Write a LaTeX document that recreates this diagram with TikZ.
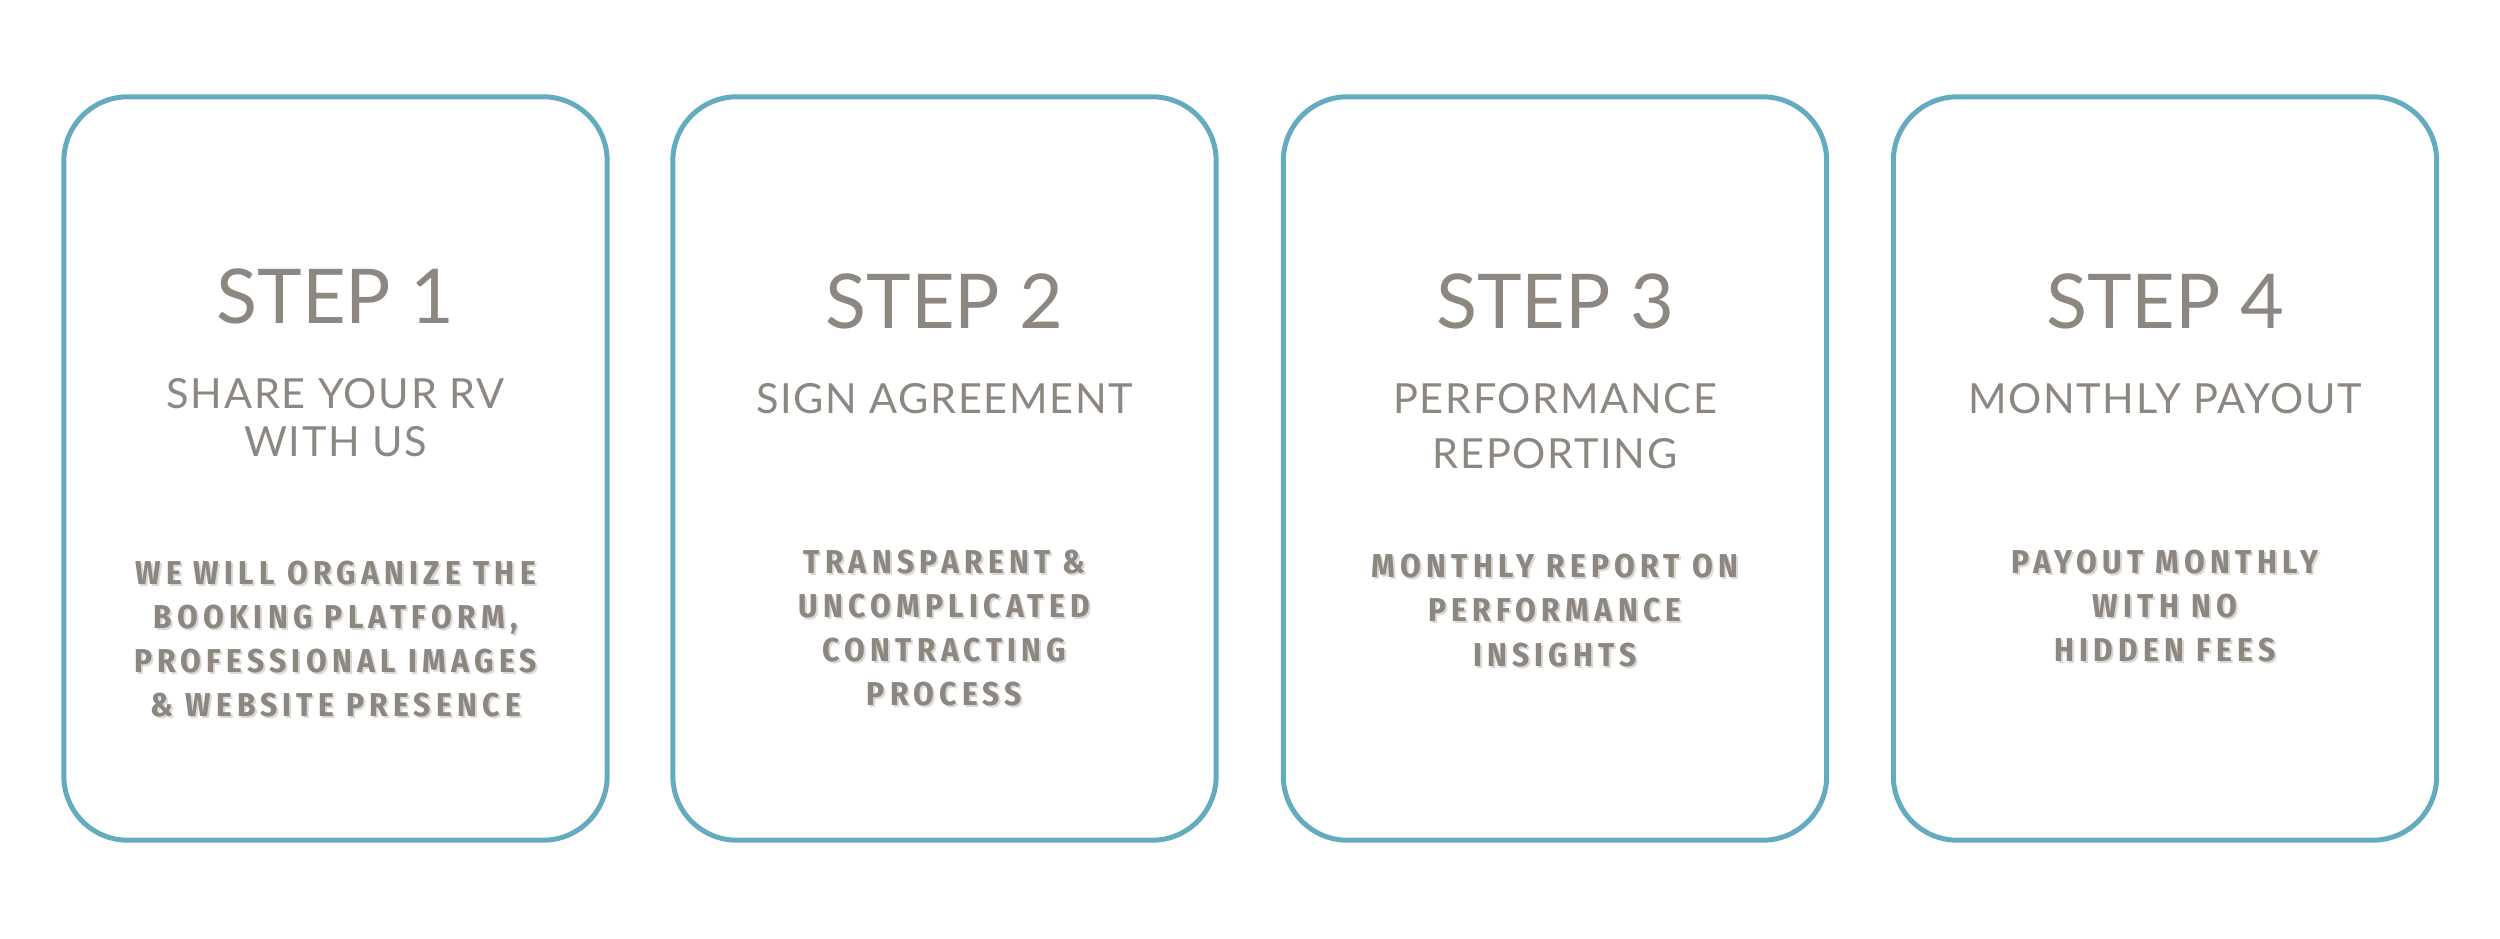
\documentclass[tikz,border=0pt]{standalone}
\usepackage{fontspec}
\newfontfamily\headfont{Lato}
\newfontfamily\subfont[LetterSpace=4]{Lato}
\IfFontExistsTF{Fira Sans Condensed}{\newfontfamily\descfont[LetterSpace=16]{Fira Sans Condensed}\def\descsize{\fontsize{9.4}{12.6}\selectfont}}{\newfontfamily\descfont[LetterSpace=14]{Fira Sans}\def\descsize{\fontsize{8.7}{12.6}\selectfont}}
\definecolor{cardblue}{HTML}{64ABBF}
\definecolor{txtgray}{HTML}{8D8782}
\definecolor{shadowgray}{HTML}{DCD8D4}
\tikzset{
  card/.style={draw=cardblue, line width=1.42pt, rounded corners=0.64cm, minimum width=5.43cm, minimum height=7.43cm, inner sep=0pt},
  steptitle/.style={text=txtgray, inner sep=0pt, font=\headfont\fontsize{21.5}{26}\selectfont},
  subtitle/.style={text=txtgray, inner sep=0pt, align=center, font=\subfont\fontsize{11.8}{13.6}\selectfont},
  desc/.style={text=txtgray, inner sep=0pt, align=center, font=\descfont\bfseries\descsize},
  descshadow/.style={desc, text=shadowgray}
}
\begin{document}
\begin{tikzpicture}[x=0.01cm,y=0.01cm]
\useasboundingbox (0,0) rectangle (2500,938);
% cards
\node[card] (c1) at (335.5,469.5) {};
\node[card] (c2) at (944.5,469.5) {};
\node[card] (c3) at (1555,469.5) {};
\node[card] (c4) at (2165,469.5) {};
% titles
\node[steptitle] (t1) at (335.5,642) {STEP 1};
\node[steptitle] (t2) at (944.5,637) {STEP 2};
\node[steptitle] (t3) at (1555,637) {STEP 3};
\node[steptitle] (t4) at (2165,637) {STEP 4};
% subtitles
\node[subtitle] (s1) at (335.5,520) {SHARE YOUR RV\\WITH US};
\node[subtitle] (s2) at (944.5,539.5) {SIGN AGREEMENT};
\node[subtitle, font=\subfont\fontsize{11.8}{15.8}\selectfont] (s3) at (1555,512) {PERFORMANCE\\REPORTING};
\node[subtitle] (s4) at (2165,539.5) {MONTHLY PAYOUT};
% descriptions with shadow
\node[descshadow] (d1s) at (337.5,297) {WE WILL ORGANIZE THE\\BOOKING PLATFORM,\\PROFESSIONAL IMAGES\\\&\ WEBSITE PRESENCE};
\node[desc] (d1) at (335.5,299) {WE WILL ORGANIZE THE\\BOOKING PLATFORM,\\PROFESSIONAL IMAGES\\\&\ WEBSITE PRESENCE};
\node[descshadow] (d2s) at (946.5,308) {TRANSPARENT \&\\UNCOMPLICATED\\CONTRACTING\\PROCESS};
\node[desc] (d2) at (944.5,310) {TRANSPARENT \&\\UNCOMPLICATED\\CONTRACTING\\PROCESS};
\node[descshadow] (d3s) at (1557,325.5) {MONTHLY REPORT ON\\PERFORMANCE\\INSIGHTS};
\node[desc] (d3) at (1555,327.5) {MONTHLY REPORT ON\\PERFORMANCE\\INSIGHTS};
\node[descshadow] (d4s) at (2167,330) {PAYOUT MONTHLY\\WITH NO\\HIDDEN FEES};
\node[desc] (d4) at (2165,332) {PAYOUT MONTHLY\\WITH NO\\HIDDEN FEES};
\end{tikzpicture}
\end{document}
